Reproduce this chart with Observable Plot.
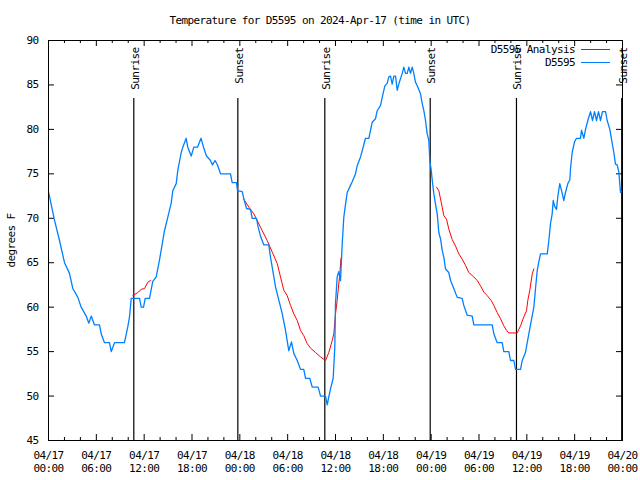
<!DOCTYPE html>
<html><head><meta charset="utf-8">
<script src="https://cdn.jsdelivr.net/npm/d3@7"></script>
<script src="https://cdn.jsdelivr.net/npm/@observablehq/plot@0.6"></script>
<style>
body{margin:0;background:#fff;}
#wrap{position:relative;width:640px;height:480px;font-family:"DejaVu Sans Mono",monospace;font-size:11px;letter-spacing:-0.6px;color:#000;}
#title{height:30px;box-sizing:border-box;padding-top:15px;line-height:12px;text-align:center;white-space:pre;}
#legend{position:absolute;top:43px;right:30px;}
.row{display:flex;justify-content:flex-end;align-items:center;height:13px;}
.sw{display:inline-block;width:29px;height:0;margin-left:6px;}
svg text{letter-spacing:-0.6px;}
</style>
</head><body>
<div id="wrap">
<div id="title">Temperature for D5595 on 2024-Apr-17 (time in UTC)</div>
<div id="chart"></div>
<div id="legend"></div>
</div>
<script>
// hours since 2024-04-17 00:00 UTC
const stationHours = [0,0.75,1.38,2.01,2.63,3.05,3.68,4.10,4.73,5.06,5.36,5.77,6.40,6.61,7.02,7.65,7.87,8.28,9.53,9.95,10.16,10.38,11.42,11.63,11.92,12.13,12.67,13.08,13.51,13.92,14.55,14.96,15.39,15.59,16.02,16.22,16.65,16.85,17.27,17.47,17.90,18.23,18.69,19.13,19.44,19.82,20.32,20.57,20.89,21.20,21.58,22.83,23.04,23.58,23.71,24.30,24.50,24.84,25.34,25.55,26.09,26.30,26.59,27.01,27.63,27.85,28.06,28.47,28.89,29.31,29.73,30.14,30.48,30.77,31.20,31.61,32.02,32.24,32.78,33.08,33.83,34.12,34.75,34.96,35.16,35.37,35.71,35.91,36.00,36.21,36.41,36.63,36.84,37.04,37.26,37.47,37.88,38.10,38.51,38.72,39.14,39.35,39.76,40.18,40.39,40.60,41.02,41.23,41.65,41.86,42.19,42.49,42.69,42.90,43.11,43.31,43.53,43.74,43.94,44.37,44.57,44.78,45.00,45.20,45.41,45.62,45.82,46.04,46.25,46.66,46.88,47.08,47.29,47.50,47.70,47.83,48.01,48.13,48.33,48.54,48.76,48.96,49.17,49.39,49.59,49.80,50.21,50.43,50.84,51.27,51.89,52.09,52.52,53.15,53.35,55.66,55.86,56.28,56.91,57.11,57.74,57.95,58.37,58.58,59.21,59.42,59.83,60.25,60.46,60.88,61.09,61.30,61.50,61.72,62.56,62.76,62.97,63.18,63.31,63.47,63.72,63.88,64.13,64.44,64.64,64.85,65.14,65.39,65.48,65.69,65.98,66.23,66.73,66.86,67.15,67.36,67.65,67.99,68.24,68.49,68.74,68.99,69.24,69.49,69.87,70.08,70.41,70.62,70.91,71.12,71.33,71.54,71.75,71.88];
const stationTemps = [73,69.8,67.5,65,63.8,62.1,61.1,60,59,58.2,59,58,58,57,56,56,55,56,56,57.8,58.9,61,61,60,60,61,61,62.9,63.4,65.3,68.6,70.1,71.7,73.1,73.9,75.4,77.4,78,79,78,77,78,78,79,78,77,76.5,76,76.5,76,75,75,74,74,73.1,73,72.2,71.1,71,70,70,69,68,67,67,65.6,64.5,62.3,60.8,59.3,57.4,55.1,56.1,54.8,54,53,53,52,52,51,51,50,50,49,49.9,50.8,52,55.5,60.4,63.4,64,63,67.1,70.1,71.6,72.9,73.7,74.1,75,75.9,76.9,77.6,79,79,79.9,80.8,81.2,82.1,82.7,83.6,84.9,85.2,85.9,86,85.1,86,86,84.4,85.1,86.3,87,86.3,86.3,87,86.3,87,86.3,85.3,84.9,84,82.9,82.1,81,79.5,78.8,76.5,75.4,74.3,72.8,71.6,70.5,68.4,67.7,66.4,65.6,64.3,63.9,63,62.1,61.1,61,60.2,59.1,59,58,58,57,56,56,55,55,54,54,53,53,54,54.9,57,58,60,62.1,64.1,65.1,66,66,67.5,69.4,70.5,72,71.4,71,72.4,73.9,72.8,72,72.9,73.9,74.3,75.6,77.4,78.6,79,79,79.9,79,80,81,82,81,82,81,82,81,82,82,81,80,78.9,77.4,76.1,76,75.2,72.9,73];

const analysis1Hours = [10.57,11.13,11.63,12.04,12.46,12.79];
const analysis1Temps = [61.3,61.6,62.0,62.1,62.8,63.0];
const analysis2Hours = [24.46,25.13,25.75,26.18,26.81,27.43,28.06,28.69,29.10,29.52,29.94,30.36,30.77,31.20,31.61,32.02,32.45,32.86,33.49,34.12,34.75,35.16,35.59,35.79,36.00,36.21,36.41,36.54,36.69];
const analysis2Temps = [72.2,71.25,70.5,69.75,68.6,67.5,66.2,64.9,63.4,61.9,61.3,60.2,59.25,58.5,57.4,56.8,55.9,55.4,54.9,54.4,54.0,54.9,56.25,57.0,59.25,60.75,62.6,63.75,65.5];
const analysis3Hours = [48.67,48.96,49.26,49.59,49.92,50.21,50.64,51.05,51.47,51.89,52.31,52.72,53.35,53.78,54.19,54.60,55.03,55.53,55.86,56.28,56.70,57.11,57.45,57.74,58.79,59.21,59.62,59.96,60.12,60.37,60.68,60.88];
const analysis3Temps = [73.5,73.1,71.8,70.3,69.9,68.8,67.6,66.9,66.0,65.4,64.7,63.9,63.4,63.0,62.4,61.7,61.3,60.75,60.2,59.4,58.7,57.9,57.4,57.1,57.1,57.9,58.9,59.6,60.75,61.9,63.75,64.3];

const sunHours = [10.70,23.75,34.66,47.88,58.70,71.90];
const sunLabels = ["Sunrise","Sunset","Sunrise","Sunset","Sunrise","Sunset"];

const yTicks = [45,50,55,60,65,70,75,80,85,90];
const seriesNames = ["D5595 Analysis","D5595"];
const seriesColors = ["#ff0000","#0080ff"];

const t0 = Date.UTC(2024,3,17);
const toDate = h => new Date(t0 + h*3600e3);

const station = stationHours.map((h,i)=>({date:toDate(h), temp:stationTemps[i]}));
const analysis = [];
[[analysis1Hours,analysis1Temps],[analysis2Hours,analysis2Temps],[analysis3Hours,analysis3Temps]].forEach(([hs,ts],k)=>{
  hs.forEach((h,i)=>analysis.push({seg:k, date:toDate(h), temp:ts[i]}));
});
const sun = sunHours.map((h,i)=>({date:toDate(h), label:sunLabels[i]}));

const xDomain = [toDate(0), toDate(72)];
const xMajor = d3.utcHour.every(6).range(xDomain[0], new Date(+xDomain[1]+1));
const xMinor = d3.utcHour.every(2).range(xDomain[0], new Date(+xDomain[1]+1)).filter(d=>d.getUTCHours()%6!==0);

const W = 640, H = 450, ML = 48, MR = 18, MT = 10, MB = 40;
const PW = W-ML-MR, PH = H-MT-MB;

const chart = Plot.plot({
  width: W, height: H, marginTop: MT, marginBottom: MB, marginLeft: ML, marginRight: MR,
  style: {fontFamily: '"DejaVu Sans Mono", monospace', fontSize: "11px", background: "white", color: "black"},
  x: {type: "utc", domain: xDomain},
  y: {domain: [45, 90]},
  marks: [
    Plot.axisY(yTicks, {tickSize: 0, tickPadding: 10, label: "degrees F", labelAnchor: "center", labelOffset: 41, labelArrow: "none"}),
    Plot.axisX(xMajor, {tickSize: 0, tickPadding: 9, tickFormat: d3.utcFormat("%m/%d\n%H:%M"), lineHeight: 1.2, label: null}),
    Plot.tickY(yTicks, {y: d=>d, insetRight: PW-6, stroke: "black"}),
    Plot.tickY(yTicks, {y: d=>d, insetLeft: PW-6, stroke: "black"}),
    Plot.tickX(xMajor, {x: d=>d, insetBottom: PH-6, stroke: "black"}),
    Plot.tickX(xMajor, {x: d=>d, insetTop: PH-6, stroke: "black"}),
    Plot.tickX(xMinor, {x: d=>d, insetBottom: PH-3, stroke: "black"}),
    Plot.tickX(xMinor, {x: d=>d, insetTop: PH-3, stroke: "black"}),
    Plot.ruleX(sun, {x: "date", insetTop: 58, stroke: "black", strokeWidth: 1.2}),
    Plot.text(sun, {x: "date", text: "label", frameAnchor: "top", rotate: -90, textAnchor: "end", dx: -3, dy: 7, fill: "black"}),
    Plot.line(analysis, {x: "date", y: "temp", z: "seg", stroke: seriesColors[0], strokeWidth: 1}),
    Plot.line(station, {x: "date", y: "temp", stroke: seriesColors[1], strokeWidth: 1.3}),
    Plot.frame({stroke: "black"})
  ]
});
document.getElementById("chart").appendChild(chart);

const legend = document.getElementById("legend");
seriesNames.forEach((n,i)=>{
  const r = document.createElement("div"); r.className = "row";
  const t = document.createElement("span"); t.textContent = n;
  const s = document.createElement("span"); s.className = "sw"; s.style.borderTop = "1px solid " + seriesColors[i];
  r.appendChild(t); r.appendChild(s); legend.appendChild(r);
});
</script>
</body></html>
